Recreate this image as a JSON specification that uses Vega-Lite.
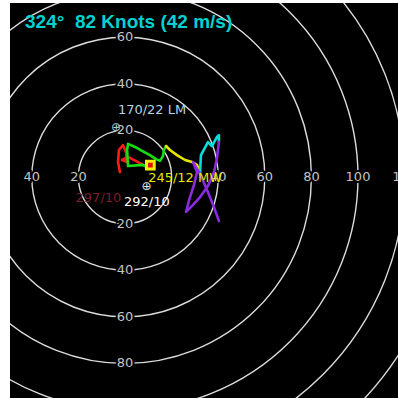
{
  "$schema": "https://vega.github.io/schema/vega-lite/v6.json",
  "width": 388,
  "height": 395,
  "autosize": {"type": "none"},
  "padding": {"left": 10, "top": 3, "right": 0, "bottom": 0},
  "background": "white",
  "config": {"view": {"fill": "black", "stroke": null}},
  "datasets": {
    "rings": [
      {"u": 0, "v": 0, "r": 20}, {"u": 0, "v": 0, "r": 40}, {"u": 0, "v": 0, "r": 60}, {"u": 0, "v": 0, "r": 80},
      {"u": 0, "v": 0, "r": 100}, {"u": 0, "v": 0, "r": 120}, {"u": 0, "v": 0, "r": 140}, {"u": 0, "v": 0, "r": 160}
    ],
    "ticks": [
      {"u": 0, "v": 60, "t": "60"}, {"u": 0, "v": 40, "t": "40"}, {"u": 0, "v": 20, "t": "20"},
      {"u": 0, "v": -20, "t": "20"}, {"u": 0, "v": -40, "t": "40"}, {"u": 0, "v": -60, "t": "60"}, {"u": 0, "v": -80, "t": "80"},
      {"u": -40, "v": 0, "t": "40"}, {"u": -20, "v": 0, "t": "20"}, {"u": 40, "v": 0, "t": "40"},
      {"u": 60, "v": 0, "t": "60"}, {"u": 80, "v": 0, "t": "80"}, {"u": 100, "v": 0, "t": "100"}, {"u": 120, "v": 0, "t": "120"}
    ],
    "hodo": [
      {"seg": "0-1 km", "i": 0, "u": -2.2, "v": 2.1},
      {"seg": "0-1 km", "i": 1, "u": -3.0, "v": 6.4},
      {"seg": "0-1 km", "i": 2, "u": -2.6, "v": 11.6},
      {"seg": "0-1 km", "i": 3, "u": -0.9, "v": 13.7},
      {"seg": "0-1 km", "i": 4, "u": 0.4, "v": 10.7},
      {"seg": "0-1 km", "i": 5, "u": 0.9, "v": 6.4},
      {"seg": "0-1 km", "i": 6, "u": -1.3, "v": 7.3},
      {"seg": "0-1 km", "i": 7, "u": 1.3, "v": 8.6},
      {"seg": "0-1 km", "i": 8, "u": 5.6, "v": 6.4},
      {"seg": "0-1 km", "i": 9, "u": 9.4, "v": 4.3},
      {"seg": "1-3 km", "i": 10, "u": 9.4, "v": 4.3},
      {"seg": "1-3 km", "i": 11, "u": 7.7, "v": 5.2},
      {"seg": "1-3 km", "i": 12, "u": 1.3, "v": 4.7},
      {"seg": "1-3 km", "i": 13, "u": 0.9, "v": 11.6},
      {"seg": "1-3 km", "i": 14, "u": 1.3, "v": 14.2},
      {"seg": "1-3 km", "i": 15, "u": 4.3, "v": 12.9},
      {"seg": "1-3 km", "i": 16, "u": 7.3, "v": 11.2},
      {"seg": "1-3 km", "i": 17, "u": 10.7, "v": 9.4},
      {"seg": "1-3 km", "i": 18, "u": 13.3, "v": 7.7},
      {"seg": "1-3 km", "i": 19, "u": 15.0, "v": 6.9},
      {"seg": "1-3 km", "i": 20, "u": 16.3, "v": 9.0},
      {"seg": "1-3 km", "i": 21, "u": 16.7, "v": 11.6},
      {"seg": "1-3 km", "i": 22, "u": 17.6, "v": 13.3},
      {"seg": "3-6 km", "i": 23, "u": 17.6, "v": 13.3},
      {"seg": "3-6 km", "i": 24, "u": 19.3, "v": 11.6},
      {"seg": "3-6 km", "i": 25, "u": 22.3, "v": 9.4},
      {"seg": "3-6 km", "i": 26, "u": 25.8, "v": 7.3},
      {"seg": "3-6 km", "i": 27, "u": 28.8, "v": 6.4},
      {"seg": "3-6 km", "i": 28, "u": 30.9, "v": 5.2},
      {"seg": "3-6 km", "i": 29, "u": 32.2, "v": 2.1},
      {"seg": "6-9 km", "i": 30, "u": 32.2, "v": 2.1},
      {"seg": "6-9 km", "i": 31, "u": 32.6, "v": 9.4},
      {"seg": "6-9 km", "i": 32, "u": 35.6, "v": 15.0},
      {"seg": "6-9 km", "i": 33, "u": 37.3, "v": 13.3},
      {"seg": "6-9 km", "i": 34, "u": 39.5, "v": 17.2},
      {"seg": "6-9 km", "i": 35, "u": 40.3, "v": 18.0},
      {"seg": "6-9 km", "i": 36, "u": 40.3, "v": 15.0},
      {"seg": "9-12 km", "i": 37, "u": 40.3, "v": 15.0},
      {"seg": "9-12 km", "i": 38, "u": 39.5, "v": 8.2},
      {"seg": "9-12 km", "i": 39, "u": 38.2, "v": 2.1},
      {"seg": "9-12 km", "i": 40, "u": 35.6, "v": -3.9},
      {"seg": "9-12 km", "i": 41, "u": 32.2, "v": -8.6},
      {"seg": "9-12 km", "i": 42, "u": 28.8, "v": -12.4},
      {"seg": "9-12 km", "i": 43, "u": 26.2, "v": -15.0},
      {"seg": "9-12 km", "i": 44, "u": 27.5, "v": -9.9},
      {"seg": "9-12 km", "i": 45, "u": 29.6, "v": -3.4},
      {"seg": "9-12 km", "i": 46, "u": 30.9, "v": 2.1},
      {"seg": "9-12 km", "i": 47, "u": 29.2, "v": 6.4},
      {"seg": "9-12 km", "i": 48, "u": 31.8, "v": 2.1},
      {"seg": "9-12 km", "i": 49, "u": 33.9, "v": -2.6},
      {"seg": "9-12 km", "i": 50, "u": 36.1, "v": -7.7},
      {"seg": "9-12 km", "i": 51, "u": 37.8, "v": -12.0},
      {"seg": "9-12 km", "i": 52, "u": 39.1, "v": -15.5},
      {"seg": "9-12 km", "i": 53, "u": 40.3, "v": -18.9}
    ],
    "motion": [
      {"kind": "LM", "u": -3.82, "v": 21.67},
      {"kind": "RM", "u": 9.27, "v": -3.75}
    ],
    "mean": [
      {"kind": "MW", "u": 10.88, "v": 5.07}
    ],
    "labels": [
      {"kind": "LM", "u": 11.6, "v": 28.8, "t": "170/22 LM"},
      {"kind": "MW", "u": 25.8, "v": -0.4, "t": "245/12 MW"},
      {"kind": "RM", "u": 9.4, "v": -10.7, "t": "292/10"},
      {"kind": "RM2", "u": -11.4, "v": -9.0, "t": "297/10"}
    ],
    "readout": [
      {"u": -42.9, "v": 66.5, "t": "324°\u00a0 82 Knots (42 m/s)"}
    ]
  },
  "layer": [
    {
      "data": {"name": "rings"},
      "mark": {"type": "point", "shape": "circle", "filled": false, "color": "#dcdcdc", "strokeWidth": 1.4, "opacity": 1, "clip": true},
      "encoding": {
        "x": {"field": "u", "type": "quantitative", "scale": {"domain": [-49.36, 117.17], "nice": false, "zero": false}, "axis": null},
        "y": {"field": "v", "type": "quantitative", "scale": {"domain": [-94.85, 74.68], "nice": false, "zero": false}, "axis": null},
        "size": {"field": "r", "type": "quantitative", "scale": {"type": "pow", "exponent": 2, "domain": [0, 160], "range": [0, 555919]}, "legend": null}
      }
    },
    {
      "mark": {"type": "rule", "color": "#b4b4b4", "strokeWidth": 1},
      "encoding": {"y": {"datum": 0, "type": "quantitative"}}
    },
    {
      "mark": {"type": "rule", "color": "#b4b4b4", "strokeWidth": 1},
      "encoding": {"x": {"datum": 0, "type": "quantitative"}}
    },
    {
      "data": {"name": "ticks"},
      "mark": {"type": "text", "font": "DejaVu Sans", "fontSize": 13, "align": "center", "baseline": "middle", "fill": "black", "stroke": "black", "strokeWidth": 4},
      "encoding": {
        "x": {"field": "u", "type": "quantitative"},
        "y": {"field": "v", "type": "quantitative"},
        "text": {"field": "t"}
      }
    },
    {
      "data": {"name": "ticks"},
      "mark": {"type": "text", "font": "DejaVu Sans", "fontSize": 13, "align": "center", "baseline": "middle", "fill": "#c4c4c4"},
      "encoding": {
        "x": {"field": "u", "type": "quantitative"},
        "y": {"field": "v", "type": "quantitative"},
        "text": {"field": "t"}
      }
    },
    {
      "data": {"name": "hodo"},
      "mark": {"type": "line", "strokeWidth": 2.6, "strokeJoin": "round", "strokeCap": "round"},
      "encoding": {
        "x": {"field": "u", "type": "quantitative"},
        "y": {"field": "v", "type": "quantitative"},
        "order": {"field": "i", "type": "quantitative"},
        "color": {"field": "seg", "type": "nominal", "scale": {"domain": ["0-1 km", "1-3 km", "3-6 km", "6-9 km", "9-12 km"], "range": ["#ff1a1a", "#12e012", "#e6e600", "#00dede", "#8a2be2"]}, "legend": null}
      }
    },
    {
      "data": {"name": "motion"},
      "mark": {"type": "text", "text": "⊕", "font": "DejaVu Sans", "fontSize": 12, "align": "center", "baseline": "middle"},
      "encoding": {
        "x": {"field": "u", "type": "quantitative"},
        "y": {"field": "v", "type": "quantitative"},
        "color": {"field": "kind", "type": "nominal", "scale": {"domain": ["LM", "RM"], "range": ["#a8cde0", "#e8e8e8"]}, "legend": null}
      }
    },
    {
      "data": {"name": "mean"},
      "mark": {"type": "point", "shape": "square", "filled": true, "fill": "#e01010", "stroke": "#f0f000", "strokeWidth": 3, "size": 60, "opacity": 1},
      "encoding": {
        "x": {"field": "u", "type": "quantitative"},
        "y": {"field": "v", "type": "quantitative"}
      }
    },
    {
      "data": {"name": "labels"},
      "mark": {"type": "text", "font": "DejaVu Sans", "fontSize": 13, "align": "center", "baseline": "middle"},
      "encoding": {
        "x": {"field": "u", "type": "quantitative"},
        "y": {"field": "v", "type": "quantitative"},
        "text": {"field": "t"},
        "color": {"field": "kind", "type": "nominal", "scale": {"domain": ["LM", "MW", "RM", "RM2"], "range": ["#b4d2e0", "#e6e600", "#ffffff", "#7a1f2e"]}, "legend": null}
      }
    },
    {
      "data": {"name": "readout"},
      "mark": {"type": "text", "font": "Liberation Sans", "fontWeight": "bold", "fontSize": 19, "align": "left", "baseline": "middle", "color": "#00d2d2"},
      "encoding": {
        "x": {"field": "u", "type": "quantitative"},
        "y": {"field": "v", "type": "quantitative"},
        "text": {"field": "t"}
      }
    }
  ],
  "resolve": {"scale": {"color": "independent"}}
}
